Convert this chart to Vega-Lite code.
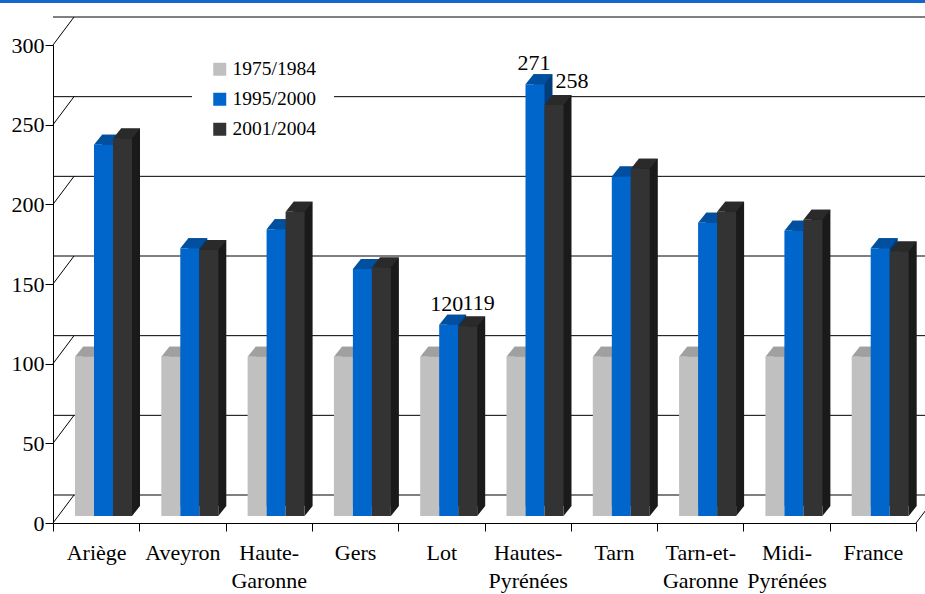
{
"$schema":"https://vega.github.io/schema/vega-lite/v6.json",
"width":863,"height":478,
"autosize":{"type":"none"},
"padding":{"left":53,"top":45,"right":9,"bottom":71},
"background":"white",
"config":{"view":{"stroke":null},"font":"Liberation Serif"},
"datasets":{
"bars":[
{"group":"Ariège","series":"1975/1984","value":100},{"group":"Ariège","series":"1995/2000","value":233},{"group":"Ariège","series":"2001/2004","value":237},
{"group":"Aveyron","series":"1975/1984","value":100},{"group":"Aveyron","series":"1995/2000","value":168},{"group":"Aveyron","series":"2001/2004","value":167},
{"group":"Haute-Garonne","series":"1975/1984","value":100},{"group":"Haute-Garonne","series":"1995/2000","value":180},{"group":"Haute-Garonne","series":"2001/2004","value":191},
{"group":"Gers","series":"1975/1984","value":100},{"group":"Gers","series":"1995/2000","value":155},{"group":"Gers","series":"2001/2004","value":156},
{"group":"Lot","series":"1975/1984","value":100},{"group":"Lot","series":"1995/2000","value":120},{"group":"Lot","series":"2001/2004","value":119},
{"group":"Hautes-Pyrénées","series":"1975/1984","value":100},{"group":"Hautes-Pyrénées","series":"1995/2000","value":271},{"group":"Hautes-Pyrénées","series":"2001/2004","value":258},
{"group":"Tarn","series":"1975/1984","value":100},{"group":"Tarn","series":"1995/2000","value":213},{"group":"Tarn","series":"2001/2004","value":218},
{"group":"Tarn-et-Garonne","series":"1975/1984","value":100},{"group":"Tarn-et-Garonne","series":"1995/2000","value":184},{"group":"Tarn-et-Garonne","series":"2001/2004","value":191},
{"group":"Midi-Pyrénées","series":"1975/1984","value":100},{"group":"Midi-Pyrénées","series":"1995/2000","value":179},{"group":"Midi-Pyrénées","series":"2001/2004","value":186},
{"group":"France","series":"1975/1984","value":100},{"group":"France","series":"1995/2000","value":168},{"group":"France","series":"2001/2004","value":166}
],
"ticks":[{"tick":0},{"tick":50},{"tick":100},{"tick":150},{"tick":200},{"tick":250},{"tick":300}]
},
"layer":[
{"data":{"name":"ticks"},"mark":{"type":"rule","color":"#000","strokeWidth":1,"yOffset":-28,"xOffset":21},
 "encoding":{"y":{"field":"tick","type":"quantitative","scale":{"domain":[0,300],"nice":false},
   "axis":{"title":null,"values":[0,50,100,150,200,250,300],"grid":false,"labelFont":"Liberation Serif","labelFontSize":22,"labelColor":"#000","labelPadding":1,"tickSize":8,"tickColor":"#000","domainColor":"#000"}}}},
{"data":{"name":"ticks"},"mark":{"type":"point","shape":"M0 0L21 -28","size":4,"filled":false,"stroke":"#000","strokeWidth":1,"opacity":1},
 "encoding":{"x":{"value":0},"y":{"field":"tick","type":"quantitative"}}},
{"data":{"values":[{"tick":0}]},"mark":{"type":"point","shape":"M0 0L10 -13","size":4,"filled":false,"stroke":"#000","strokeWidth":1,"opacity":1},
 "encoding":{"x":{"value":863},"y":{"field":"tick","type":"quantitative"}}},
{"data":{"values":[{"tick":300}]},"mark":{"type":"rule","color":"#1565CF","strokeWidth":3,"yOffset":-43.5},
 "encoding":{"x":{"value":-53},"x2":{"value":872},"y":{"field":"tick","type":"quantitative"}}},
{"data":{"name":"bars"},
 "resolve":{"scale":{"color":"independent","xOffset":"independent"}},
 "encoding":{
  "x":{"field":"group","type":"nominal","sort":null,"scale":{"paddingInner":0,"paddingOuter":0},
   "axis":{"title":null,"labelAngle":0,"labelFont":"Liberation Serif","labelFontSize":22,"labelColor":"#000","labelPadding":11,"labelLimit":200,"labelLineHeight":28,"labelBaseline":"top",
    "tickBand":"extent","tickSize":8,"tickColor":"#000","domainColor":"#000","labelExpr":"split(replace(datum.label,/-(?=[^-]*$)/,'-\\n'),'\\n')"}},
  "y":{"field":"value","type":"quantitative","stack":null}
 },
 "layer":[
  {"mark":{"type":"bar","yOffset":-17,"y2Offset":-17},
   "encoding":{"xOffset":{"field":"series","type":"nominal","scale":{"paddingInner":0,"paddingOuter":0,"range":[30,87]}},
    "y2":{"datum":0},
    "color":{"field":"series","type":"nominal","legend":null,"scale":{"domain":["1975/1984","1995/2000","2001/2004"],"range":["#969696","#003D7A","#1A1A1A"]}}}},
  {"transform":[{"filter":"datum.series=='2001/2004'"}],"mark":{"type":"point","shape":"M9.5 0L9.5 -10L17.5 -10Z","size":4,"filled":true,"opacity":1,"color":"#1A1A1A","yOffset":-7},
   "encoding":{"y":{"datum":0},"xOffset":{"field":"series","type":"nominal","scale":{"type":"point","padding":0,"domain":["1975/1984","1995/2000","2001/2004"],"range":[31.5,69.5]}}}},
  {"mark":{"type":"point","shape":"M-9.5 0L9.5 0L17.5 -10L-1.5 -10Z","size":4,"filled":true,"opacity":1,"yOffset":-7},
   "encoding":{"xOffset":{"field":"series","type":"nominal","scale":{"type":"point","padding":0,"domain":["1975/1984","1995/2000","2001/2004"],"range":[31.5,69.5]}},
    "color":{"field":"series","type":"nominal","legend":null,"scale":{"domain":["1975/1984","1995/2000","2001/2004"],"range":["#A0A0A0","#00509F","#2A2A2A"]}}}},
  {"mark":{"type":"bar","yOffset":-7,"y2Offset":-7},
   "encoding":{"xOffset":{"field":"series","type":"nominal","scale":{"paddingInner":0,"paddingOuter":0,"range":[22,79]}},
    "y2":{"datum":0},
    "color":{"field":"series","type":"nominal","scale":{"domain":["1975/1984","1995/2000","2001/2004"],"range":["#C0C0C0","#0066CC","#333333"]},
    "legend":{"title":null,"orient":"none","legendX":139,"legendY":-3.5,"fillColor":"white","padding":18,"symbolType":"square","symbolSize":169,"symbolStrokeWidth":0,"labelFont":"Liberation Serif","labelFontSize":19.5,"labelColor":"#000","rowPadding":9,"labelOffset":3}}}},
  {"transform":[{"filter":"datum.value==271"}],"mark":{"type":"text","fontSize":22,"font":"Liberation Serif","color":"#000","dx":-1,"yOffset":-21,"baseline":"alphabetic"},
   "encoding":{"xOffset":{"field":"series","type":"nominal","scale":{"type":"point","padding":0,"domain":["1975/1984","1995/2000","2001/2004"],"range":[31.5,69.5]}},"text":{"field":"value","type":"quantitative"}}},
  {"transform":[{"filter":"datum.value==120"}],"mark":{"type":"text","fontSize":22,"font":"Liberation Serif","color":"#000","dx":-2,"yOffset":-21,"baseline":"alphabetic"},
   "encoding":{"xOffset":{"field":"series","type":"nominal","scale":{"type":"point","padding":0,"domain":["1975/1984","1995/2000","2001/2004"],"range":[31.5,69.5]}},"text":{"field":"value","type":"quantitative"}}},
  {"transform":[{"filter":"datum.value==258"}],"mark":{"type":"text","fontSize":22,"font":"Liberation Serif","color":"#000","dx":18,"yOffset":-24,"baseline":"alphabetic"},
   "encoding":{"xOffset":{"field":"series","type":"nominal","scale":{"type":"point","padding":0,"domain":["1975/1984","1995/2000","2001/2004"],"range":[31.5,69.5]}},"text":{"field":"value","type":"quantitative"}}},
  {"transform":[{"filter":"datum.value==119"}],"mark":{"type":"text","fontSize":22,"font":"Liberation Serif","color":"#000","dx":11,"yOffset":-23,"baseline":"alphabetic"},
   "encoding":{"xOffset":{"field":"series","type":"nominal","scale":{"type":"point","padding":0,"domain":["1975/1984","1995/2000","2001/2004"],"range":[31.5,69.5]}},"text":{"field":"value","type":"quantitative"}}}
 ]}
]
}
